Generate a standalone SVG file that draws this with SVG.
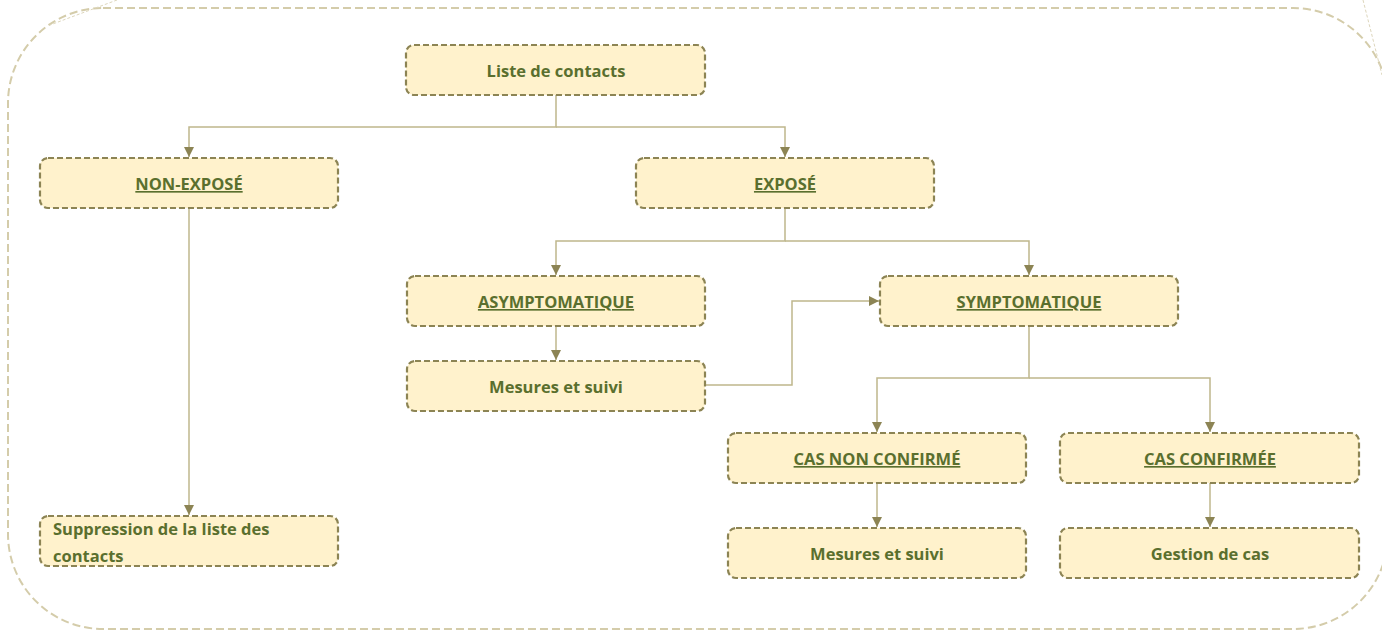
<svg xmlns="http://www.w3.org/2000/svg" width="1382" height="632" viewBox="0 0 1382 632">
<defs>
<style>
.node{fill:#fff2cc;stroke:#8c8454;stroke-width:2.2;stroke-dasharray:6 3}
.lbl{font-family:"Open Sans","Liberation Sans",sans-serif;font-weight:bold;font-size:16.5px;fill:#5a6f2e;text-anchor:middle}
.u{text-decoration:underline}
.conn{fill:none;stroke:#bfb78c;stroke-width:1.5}
.frame{fill:none;stroke:#d4ccaa;stroke-width:2;stroke-dasharray:8 4}
.faint{fill:none;stroke:#ddd6bc;stroke-width:1;stroke-dasharray:3 2}
</style>
<marker id="ah" viewBox="0 0 10 10" refX="10" refY="5" markerWidth="10" markerHeight="10" markerUnits="userSpaceOnUse" orient="auto">
<path d="M0,0 L10,5 L0,10 z" fill="#8c8454"/>
</marker>
</defs>
<rect width="1382" height="632" fill="#ffffff"/>
<g id="frame">
<rect class="frame" x="8" y="8" width="1380" height="621" rx="95" ry="95"/>
<path class="faint" d="M117,0 L50,25"/>
<path class="faint" d="M1363,0 L1382,75"/>
</g>
<g id="connectors">
<path class="conn" d="M556,95 V127 H189 V157" marker-end="url(#ah)"/>
<path class="conn" d="M556,127 H785 V157" marker-end="url(#ah)"/>
<path class="conn" d="M189,208 V515" marker-end="url(#ah)"/>
<path class="conn" d="M785,208 V241 H556 V275" marker-end="url(#ah)"/>
<path class="conn" d="M785,241 H1029 V275" marker-end="url(#ah)"/>
<path class="conn" d="M556,326 V360" marker-end="url(#ah)"/>
<path class="conn" d="M705,385 H792 V301 H879" marker-end="url(#ah)"/>
<path class="conn" d="M1029,326 V378 H877 V432" marker-end="url(#ah)"/>
<path class="conn" d="M1029,378 H1210 V432" marker-end="url(#ah)"/>
<path class="conn" d="M877,483 V527" marker-end="url(#ah)"/>
<path class="conn" d="M1210,483 V527" marker-end="url(#ah)"/>
</g>
<g id="n-liste">
<rect class="node" x="406" y="45" width="299" height="50" rx="8"/>
<text class="lbl" x="556" y="77">Liste de contacts</text>
</g>
<g id="n-nonexpose">
<rect class="node" x="40" y="158" width="298" height="50" rx="8"/>
<text class="lbl u" x="189" y="190">NON-EXPOSÉ</text>
</g>
<g id="n-expose">
<rect class="node" x="636" y="158" width="298" height="50" rx="8"/>
<text class="lbl u" x="785" y="190">EXPOSÉ</text>
</g>
<g id="n-asympto">
<rect class="node" x="407" y="276" width="298" height="50" rx="8"/>
<text class="lbl u" x="556" y="308">ASYMPTOMATIQUE</text>
</g>
<g id="n-mesures1">
<rect class="node" x="407" y="361" width="298" height="50" rx="8"/>
<text class="lbl" x="556" y="393">Mesures et suivi</text>
</g>
<g id="n-sympto">
<rect class="node" x="880" y="276" width="298" height="50" rx="8"/>
<text class="lbl u" x="1029" y="308">SYMPTOMATIQUE</text>
</g>
<g id="n-casnonconf">
<rect class="node" x="728" y="433" width="298" height="50" rx="8"/>
<text class="lbl u" x="877" y="465">CAS NON CONFIRMÉ</text>
</g>
<g id="n-casconf">
<rect class="node" x="1060" y="433" width="299" height="50" rx="8"/>
<text class="lbl u" x="1210" y="465">CAS CONFIRMÉE</text>
</g>
<g id="n-mesures2">
<rect class="node" x="728" y="528" width="298" height="50" rx="8"/>
<text class="lbl" x="877" y="560">Mesures et suivi</text>
</g>
<g id="n-gestion">
<rect class="node" x="1060" y="528" width="299" height="50" rx="8"/>
<text class="lbl" x="1210" y="560">Gestion de cas</text>
</g>
<g id="n-suppression">
<rect class="node" x="40" y="516" width="298" height="50" rx="8"/>
<text class="lbl" x="53" y="535" style="text-anchor:start">Suppression de la liste des</text>
<text class="lbl" x="53" y="562" style="text-anchor:start">contacts</text>
</g>
</svg>
